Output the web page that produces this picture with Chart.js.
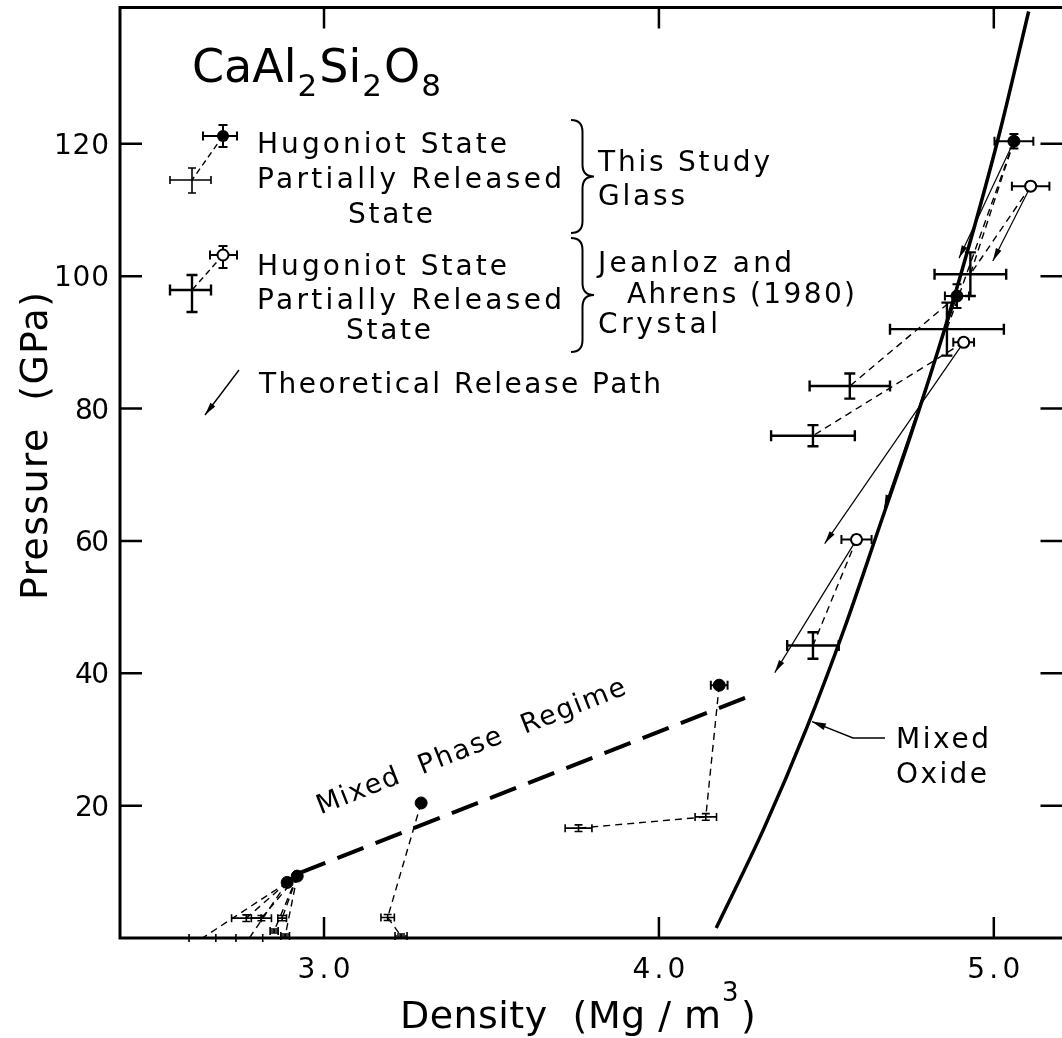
<!DOCTYPE html>
<html><head><meta charset="utf-8">
<script src="https://cdn.jsdelivr.net/npm/chart.js@4.4.1/dist/chart.umd.min.js"></script>
<style>html,body{margin:0;padding:0;background:#fff;overflow:hidden;width:1062px;height:1038px}canvas{display:block}</style>
</head><body>
<canvas id="c" width="1070" height="1038" style="width:1070px;height:1038px"></canvas>
<script>
// ---------- data ----------
const xTickValues = [3.0, 4.0, 5.0];
const xTickLabels = ['3.0', '4.0', '5.0'];
const yTickValues = [20, 40, 60, 80, 100, 120];
const yTickLabels = ['20', '40', '60', '80', '100', '120'];

// Hugoniot states, this study (glass)
const glassHugId = ['G1', 'G2', 'G3', 'G4', 'G5', 'G6'];
const glassHugDensity = [5.06, 4.89, 4.18, 3.29, 2.89, 2.92];
const glassHugPressure = [120.4, 97.0, 38.2, 20.4, 8.4, 9.35];
const glassHugDensityErr = [0.058, 0.036, 0.025, 0, 0, 0];
const glassHugPressureErr = [1.1, 1.8, 0, 0, 0, 0];

// Hugoniot states, Jeanloz and Ahrens (1980) (crystal)
const crystHugId = ['C1', 'C2', 'C3'];
const crystHugDensity = [5.11, 4.91, 4.59];
const crystHugPressure = [113.6, 90.0, 60.2];
const crystHugDensityErr = [0.056, 0.031, 0.045];
const crystHugPressureErr = [0.6, 0.6, 0.6];

// partially released states, crystal
const crystRelId = ['R1', 'R2', 'R3', 'R4', 'R5'];
const crystRelDensity = [4.93, 4.86, 4.57, 4.46, 4.46];
const crystRelPressure = [100.3, 92.0, 83.4, 75.9, 44.2];
const crystRelDensityErr = [0.107, 0.17, 0.12, 0.125, 0.077];
const crystRelPressureErr = [3.3, 4.0, 1.9, 1.6, 2.0];

// partially released states, glass
const glassRelId = ['r1', 'r2', 'r3', 'r4', 'r5', 'r6', 'r7', 'r8', 'r9', 'r10', 'r11'];
const glassRelDensity = [4.14, 3.76, 3.19, 3.23, 2.637, 2.777, 2.768, 2.813, 2.875, 2.851, 2.884];
const glassRelPressure = [18.3, 16.6, 3.1, 0.3, 0.0, 0.0, 3.0, 3.0, 3.0, 1.06, 0.3];
const glassRelDensityErr = [0.032, 0.04, 0.02, 0.018, 0.04, 0.04, 0.044, 0.03, 0.013, 0.012, 0.013];
const glassRelPressureErr = [0.5, 0.5, 0.45, 0.3, 0, 0, 0.5, 0.4, 0.4, 0.3, 0.3];

// dashed links Hugoniot state -> partially released state
const linkFrom = ['G1', 'G1', 'C1', 'G2', 'C2', 'C3', 'G3', 'r1', 'G4', 'r3', 'G5', 'G5', 'G5', 'G6', 'G6', 'G6', 'G6'];
const linkTo   = ['R1', 'R2', 'R1', 'R3', 'R4', 'R5', 'r1', 'r2', 'r3', 'r4', 'r5', 'r6', 'r7', 'r8', 'r9', 'r10', 'r11'];

// theoretical release paths
const pathFrom = ['G1', 'C1', 'G2', 'C2', 'C3'];
const pathEndDensity = [4.896, 4.997, 4.673, 4.495, 4.346];
const pathEndPressure = [102.7, 102.3, 65.0, 59.6, 40.1];

// mixed oxide curve
const oxideDensity = [4.171, 4.314, 4.441, 4.554, 4.656, 4.758, 4.853, 4.940, 5.020, 5.104];
const oxidePressure = [1.5, 16.6, 31.7, 46.8, 61.8, 76.9, 92.0, 107.1, 122.2, 140.0];

// mixed phase regime line
const mixedPhaseDensity = [2.926, 4.293];
const mixedPhasePressure = [9.8, 37.0];

// ---------- build ----------
const pts = {};
function addPts(ids, d, p, de, pe) { ids.forEach((id, i) => pts[id] = {x: d[i], y: p[i], xe: de[i], ye: pe[i]}); }
addPts(glassHugId, glassHugDensity, glassHugPressure, glassHugDensityErr, glassHugPressureErr);
addPts(crystHugId, crystHugDensity, crystHugPressure, crystHugDensityErr, crystHugPressureErr);
addPts(crystRelId, crystRelDensity, crystRelPressure, crystRelDensityErr, crystRelPressureErr);
addPts(glassRelId, glassRelDensity, glassRelPressure, glassRelDensityErr, glassRelPressureErr);
const series = ids => ids.map(id => pts[id]);

const datasets = [];
datasets.push({type: 'line', data: oxideDensity.map((x, i) => ({x, y: oxidePressure[i]})), borderColor: '#000', borderWidth: 3.5, pointRadius: 0, cubicInterpolationMode: 'monotone', fill: false, order: 6});
datasets.push({type: 'line', data: mixedPhaseDensity.map((x, i) => ({x, y: mixedPhasePressure[i]})), borderColor: '#000', borderWidth: 4, borderDash: [28, 13], pointRadius: 0, fill: false, order: 6});
linkFrom.forEach((f, i) => datasets.push({type: 'line', data: [{x: pts[f].x, y: pts[f].y}, {x: pts[linkTo[i]].x, y: pts[linkTo[i]].y}], borderColor: '#000', borderWidth: 1.4, borderDash: [7, 5], pointRadius: 0, fill: false, order: 5}));
pathFrom.forEach((f, i) => datasets.push({type: 'line', data: [{x: pts[f].x, y: pts[f].y}, {x: pathEndDensity[i], y: pathEndPressure[i]}], borderColor: '#000', borderWidth: 1.2, pointRadius: 0, fill: false, arrow: true, order: 5}));
datasets.push({type: 'scatter', data: series(crystRelId), pointRadius: 0, errorBars: {width: 2.4, cap: 11}, order: 3});
datasets.push({type: 'scatter', data: series(glassRelId), pointRadius: 0, errorBars: {width: 1.6, cap: 8}, order: 3});
datasets.push({type: 'scatter', data: series(glassHugId), pointRadius: 6, pointBackgroundColor: '#000', pointBorderColor: '#000', pointBorderWidth: 1, errorBars: {width: 2, cap: 9}, order: 1});
datasets.push({type: 'scatter', data: series(crystHugId), pointRadius: 5.5, pointBackgroundColor: '#fff', pointBorderColor: '#000', pointBorderWidth: 2, errorBars: {width: 2, cap: 9}, order: 1});

const FONT = '"DejaVu Sans", sans-serif';
function txt(ctx, s, x, y, size, width, align) {
  ctx.font = size + 'px ' + FONT;
  ctx.letterSpacing = '0px';
  const w = ctx.measureText(s).width;
  let ls = 0;
  if (width) ls = (width - w) / Math.max(1, s.length - 1);
  const tw = w + ls * (s.length - 1);
  let x0 = x;
  if (align === 'center') x0 = x - tw / 2; else if (align === 'right') x0 = x - tw;
  ctx.letterSpacing = ls + 'px';
  ctx.textAlign = 'left';
  ctx.textBaseline = 'alphabetic';
  ctx.fillText(s, x0, y);
  ctx.letterSpacing = '0px';
  return x0 + tw;
}
function arrowHead(ctx, x1, y1, x2, y2, len, half) {
  const a = Math.atan2(y2 - y1, x2 - x1);
  ctx.beginPath();
  ctx.moveTo(x2, y2);
  ctx.lineTo(x2 - len * Math.cos(a) + half * Math.sin(a), y2 - len * Math.sin(a) - half * Math.cos(a));
  ctx.lineTo(x2 - len * Math.cos(a) - half * Math.sin(a), y2 - len * Math.sin(a) + half * Math.cos(a));
  ctx.closePath();
  ctx.fill();
}
function brace(ctx, x, y1, y2, w) {
  const ym = (y1 + y2) / 2, r = 12, xm = x + w * 0.5;
  ctx.beginPath();
  ctx.moveTo(x, y1);
  ctx.quadraticCurveTo(xm, y1, xm, y1 + r);
  ctx.lineTo(xm, ym - r);
  ctx.quadraticCurveTo(xm, ym, x + w, ym);
  ctx.quadraticCurveTo(xm, ym, xm, ym + r);
  ctx.lineTo(xm, y2 - r);
  ctx.quadraticCurveTo(xm, y2, x, y2);
  ctx.stroke();
}
function errCross(ctx, cx, cy, x1, x2, y1, y2, lw, cap) {
  ctx.lineWidth = lw;
  ctx.beginPath();
  if (x2 - x1 > 1) {
    ctx.moveTo(x1, cy); ctx.lineTo(x2, cy);
    ctx.moveTo(x1, cy - cap / 2); ctx.lineTo(x1, cy + cap / 2);
    ctx.moveTo(x2, cy - cap / 2); ctx.lineTo(x2, cy + cap / 2);
  }
  if (y2 - y1 > 1) {
    ctx.moveTo(cx, y1); ctx.lineTo(cx, y2);
    ctx.moveTo(cx - cap / 2, y1); ctx.lineTo(cx + cap / 2, y1);
    ctx.moveTo(cx - cap / 2, y2); ctx.lineTo(cx + cap / 2, y2);
  }
  ctx.stroke();
}

const errorBarPlugin = {
  id: 'errorBars',
  beforeDatasetsDraw(chart) {
    const ctx = chart.ctx, xs = chart.scales.x, ys = chart.scales.y;
    ctx.save();
    ctx.strokeStyle = '#000';
    chart.data.datasets.forEach(ds => {
      if (!ds.errorBars) return;
      ds.data.forEach(p => {
        const cx = xs.getPixelForValue(p.x), cy = ys.getPixelForValue(p.y);
        errCross(ctx, cx, cy, xs.getPixelForValue(p.x - p.xe), xs.getPixelForValue(p.x + p.xe),
          ys.getPixelForValue(p.y + p.ye), ys.getPixelForValue(p.y - p.ye), ds.errorBars.width, ds.errorBars.cap);
      });
    });
    ctx.restore();
  },
  afterDatasetsDraw(chart) {
    const ctx = chart.ctx, xs = chart.scales.x, ys = chart.scales.y;
    ctx.save();
    ctx.fillStyle = '#000';
    chart.data.datasets.forEach(ds => {
      if (!ds.arrow) return;
      const a = ds.data[ds.data.length - 2], b = ds.data[ds.data.length - 1];
      arrowHead(ctx, xs.getPixelForValue(a.x), ys.getPixelForValue(a.y), xs.getPixelForValue(b.x), ys.getPixelForValue(b.y), 13, 3);
    });
    ctx.restore();
  }
};

const framePlugin = {
  id: 'frame',
  afterDraw(chart) {
    const ctx = chart.ctx, xs = chart.scales.x, ys = chart.scales.y, ca = chart.chartArea;
    ctx.save();
    ctx.strokeStyle = '#000'; ctx.fillStyle = '#000';
    ctx.lineWidth = 3; ctx.lineCap = 'square';
    ctx.beginPath();
    ctx.moveTo(ca.left, ca.top); ctx.lineTo(ca.left, ca.bottom); ctx.lineTo(ca.right, ca.bottom);
    ctx.moveTo(ca.left, ca.top); ctx.lineTo(ca.right, ca.top);
    ctx.stroke();
    ctx.lineCap = 'butt'; ctx.lineWidth = 2.5;
    ctx.beginPath();
    xTickValues.forEach(v => {
      const px = xs.getPixelForValue(v);
      ctx.moveTo(px, ca.bottom); ctx.lineTo(px, ca.bottom - 21);
      ctx.moveTo(px, ca.top); ctx.lineTo(px, ca.top + 21);
    });
    yTickValues.forEach(v => {
      const py = ys.getPixelForValue(v);
      ctx.moveTo(ca.left, py); ctx.lineTo(ca.left + 22, py);
      ctx.moveTo(ca.right, py); ctx.lineTo(ca.right - 22, py);
    });
    ctx.stroke();
    // tick labels
    xTickValues.forEach((v, i) => txt(ctx, xTickLabels[i], xs.getPixelForValue(v), ca.bottom + 40, 28, 53, 'center'));
    yTickValues.forEach((v, i) => txt(ctx, yTickLabels[i], ca.left - 11, ys.getPixelForValue(v) + 10, 28, yTickLabels[i].length === 3 ? 55 : 34, 'right'));
    // axis titles
    let e = txt(ctx, 'Density  (Mg / m', 400, 1028, 38, 321, 'left');
    txt(ctx, '3', e + 1, 1001, 26, 0, 'left');
    txt(ctx, ')', e + 20, 1028, 38, 0, 'left');
    ctx.save();
    ctx.translate(47, 446); ctx.rotate(-Math.PI / 2);
    txt(ctx, 'Pressure  (GPa)', 0, 0, 38, 308, 'center');
    ctx.restore();

    // title
    let x = 192;
    const big = 46, sub = 31;
    x = txt(ctx, 'CaAl', x, 82, big, 0); x = txt(ctx, '2', x + 1, 96, sub, 0);
    x = txt(ctx, 'Si', x + 2, 82, big, 0); x = txt(ctx, '2', x + 1, 96, sub, 0);
    x = txt(ctx, 'O', x + 2, 82, big, 0); txt(ctx, '8', x + 1, 96, sub, 0);

    // legend markers
    ctx.lineWidth = 1.4; ctx.setLineDash([6, 4]);
    ctx.beginPath(); ctx.moveTo(223, 136); ctx.lineTo(192, 180); ctx.moveTo(223, 255); ctx.lineTo(192, 290); ctx.stroke();
    ctx.setLineDash([]);
    errCross(ctx, 223, 136, 203, 237, 125, 147, 2, 9);
    errCross(ctx, 192, 180, 170, 211, 168, 193, 1.6, 8);
    errCross(ctx, 223, 255, 210, 237, 246, 268, 2, 9);
    errCross(ctx, 192, 290, 170, 211, 275, 312, 2.4, 11);
    ctx.beginPath(); ctx.arc(223, 136, 6, 0, Math.PI * 2); ctx.fill();
    ctx.beginPath(); ctx.arc(223, 255, 5.5, 0, Math.PI * 2); ctx.fillStyle = '#fff'; ctx.fill(); ctx.lineWidth = 2; ctx.stroke(); ctx.fillStyle = '#000';
    ctx.lineWidth = 1.4;
    ctx.beginPath(); ctx.moveTo(239, 370); ctx.lineTo(205, 415); ctx.stroke();
    arrowHead(ctx, 239, 370, 205, 415, 13, 3);

    // legend text
    txt(ctx, 'Hugoniot State', 257, 153, 28, 250);
    txt(ctx, 'Partially Released', 257, 188, 28, 305);
    txt(ctx, 'State', 348, 223, 28, 85);
    txt(ctx, 'Hugoniot State', 257, 275, 28, 250);
    txt(ctx, 'Partially Released', 257, 309, 28, 305);
    txt(ctx, 'State', 346, 339, 28, 85);
    ctx.lineWidth = 2;
    brace(ctx, 571, 120, 233, 23);
    brace(ctx, 571, 238, 352, 23);
    txt(ctx, 'This Study', 598, 171, 28, 172);
    txt(ctx, 'Glass', 598, 205, 28, 87);
    txt(ctx, 'Jeanloz and', 598, 272, 28, 194);
    txt(ctx, 'Ahrens (1980)', 627, 303, 28, 228);
    txt(ctx, 'Crystal', 598, 333, 28, 120);
    txt(ctx, 'Theoretical Release Path', 259, 393, 28, 402);

    // Mixed phase regime label, parallel to the line
    const p1x = xs.getPixelForValue(mixedPhaseDensity[0]), p1y = ys.getPixelForValue(mixedPhasePressure[0]);
    const p2x = xs.getPixelForValue(mixedPhaseDensity[1]), p2y = ys.getPixelForValue(mixedPhasePressure[1]);
    ctx.save();
    ctx.translate(474, 754);
    ctx.rotate(Math.atan2(p2y - p1y, p2x - p1x));
    txt(ctx, 'Mixed  Phase  Regime', 0, 0, 27, 330, 'center');
    ctx.restore();

    // Mixed oxide label with leader
    txt(ctx, 'Mixed', 896, 748, 28, 93);
    txt(ctx, 'Oxide', 896, 783, 28, 91);
    const tx = xs.getPixelForValue(4.448), ty = ys.getPixelForValue(32.7);
    ctx.lineWidth = 1.4;
    ctx.beginPath(); ctx.moveTo(885, 738); ctx.lineTo(853, 738); ctx.lineTo(tx + 3, ty); ctx.stroke();
    arrowHead(ctx, 853, 738, tx + 3, ty, 14, 3.5);
    ctx.restore();
  }
};

new Chart(document.getElementById('c'), {
  type: 'scatter',
  data: {datasets},
  options: {
    responsive: false, animation: false, devicePixelRatio: 1,
    layout: {padding: {left: 120, right: 3, top: 6, bottom: 100}},
    plugins: {legend: {display: false}, tooltip: {enabled: false}},
    scales: {
      x: {type: 'linear', min: 2.3908, max: 5.2051, display: false},
      y: {type: 'linear', min: 0, max: 140.6, display: false}
    }
  },
  plugins: [errorBarPlugin, framePlugin]
});
</script>
</body></html>
